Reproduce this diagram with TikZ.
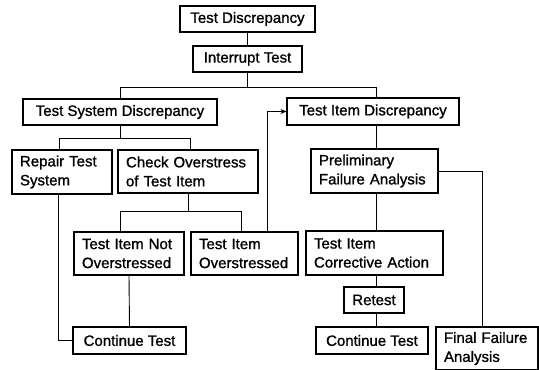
\documentclass[tikz,border=0pt]{standalone}
\usepackage{fontspec}
\setmainfont{Liberation Sans}
\newfontfamily\boxfont{Liberation Sans}[FakeBold=1.1]
\usetikzlibrary{arrows.meta}
\begin{document}
\begin{tikzpicture}[x=1pt,y=-1pt,
  box/.style={draw, line width=1.1pt, inner xsep=0pt, inner ysep=0pt,
    font=\boxfont\fontsize{15}{19}\selectfont, align=center},
  mbox/.style={draw, line width=1.1pt, inner xsep=8pt, inner ysep=0pt,
    font=\boxfont\fontsize{15}{19}\selectfont, align=left},
  conn/.style={line width=0.9pt}]
\useasboundingbox (0,0) rectangle (539,370);
\node[box, minimum width=135pt, minimum height=26pt] (td) at (247.5,19) {Test Discrepancy};
\node[box, minimum width=109pt, minimum height=26pt] (it) at (247.5,59) {Interrupt Test};
\node[box, minimum width=194pt, minimum height=26pt] (tsd) at (120,112) {Test System Discrepancy};
\node[box, minimum width=172pt, minimum height=27pt] (tid) at (373,111.5) {Test Item Discrepancy};
\node[mbox, text width=84pt, minimum height=44pt] (rts) at (62,172) {Repair Test\\System};
\node[mbox, text width=124pt, minimum height=43pt] (cot) at (188,171.5) {Check Overstress\\of Test Item};
\node[mbox, text width=111pt, minimum height=44pt] (pfa) at (374.5,171) {Preliminary\\Failure Analysis};
\node[mbox, text width=94pt, minimum height=43pt] (tino) at (129,253.5) {Test Item Not\\Overstressed};
\node[mbox, text width=91pt, minimum height=43pt] (tio) at (244.5,253.5) {Test Item\\Overstressed};
\node[mbox, text width=121pt, minimum height=44pt] (tica) at (374.5,253) {Test Item\\Corrective Action};
\node[box, minimum width=60pt, minimum height=26pt] (ret) at (374,300) {Retest};
\node[box, minimum width=113pt, minimum height=27pt] (ct1) at (129.5,340.5) {Continue Test};
\node[box, minimum width=112pt, minimum height=27pt] (ct2) at (372,340.5) {Continue Test};
\node[mbox, text width=86pt, minimum height=43pt] (ffa) at (487,348.5) {Final Failure\\Analysis};
% helper coordinates
\coordinate (j87a) at (120,87);
\coordinate (j87b) at (376,87);
\coordinate (y138) at (0,138);
\coordinate (y211) at (0,211);
\coordinate (x59) at (59,0);
\coordinate (x190) at (190,0);
\coordinate (x120) at (120,0);
\coordinate (x241) at (241,0);
\coordinate (x267) at (267,0);
\coordinate (x482) at (482,0);
\coordinate (x58) at (58,0);
\coordinate (x376) at (376,0);
% connectors
\draw[conn] (td.south) -- (it.north);
\draw[conn] (it.south) -- (it.south |- j87a);
\draw[conn] (tsd.north) -- (j87a) -- (j87b) -- (tid.north -| j87b);
\draw[conn] (tsd.south) -- (tsd.south |- y138);
\draw[conn] (rts.north -| x59) -- (x59 |- y138) -- (x190 |- y138) -- (cot.north -| x190);
\draw[conn] (cot.south) -- (cot.south |- y211);
\draw[conn] (tino.north -| x120) -- (x120 |- y211) -- (x241 |- y211) -- (tio.north -| x241);
\draw[conn, -{Stealth[length=6pt,width=5pt]}] (tio.north -| x267) |- (tid.west);
\draw[conn] (tid.south -| x376) -- (pfa.north -| x376);
\draw[conn] (pfa.east) -- (pfa.east -| x482) -- (ffa.north -| x482);
\draw[conn] (pfa.south -| x376) -- (tica.north -| x376);
\draw[conn] (tica.south -| x376) -- (ret.north -| x376);
\draw[conn] (ret.south -| x376) -- (ct2.north -| x376);
\draw[conn] (rts.south -| x58) |- (ct1.west);
\draw[conn] (tino.south) -- (ct1.north);
\end{tikzpicture}
\end{document}
